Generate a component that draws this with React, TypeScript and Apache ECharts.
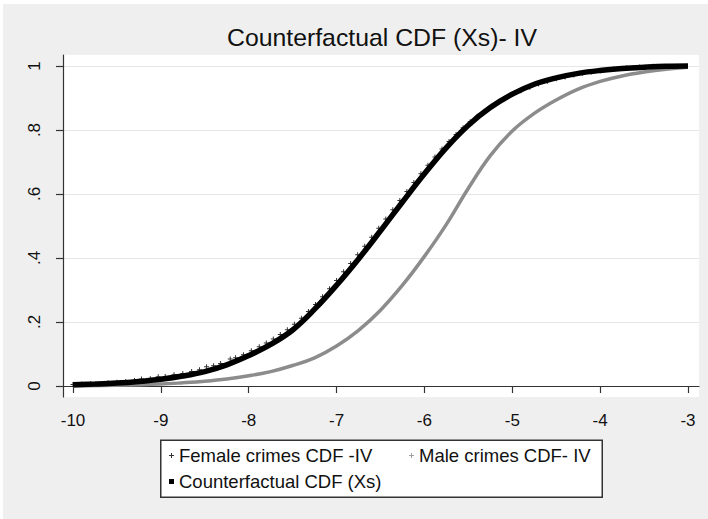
import React, { useEffect, useRef } from "react";
import * as echarts from "echarts";

// ---- data ----
const xTicks = [-10, -9, -8, -7, -6, -5, -4, -3];
const yTicks = [0, 0.2, 0.4, 0.6, 0.8, 1];

const femaleX = [-10, -9.9, -9.8, -9.7, -9.6, -9.5, -9.4, -9.3, -9.22, -9.12, -9.03, -8.95, -8.85, -8.75, -8.65, -8.56, -8.48, -8.4, -8.32, -8.21, -8.15, -8.06, -7.97, -7.88, -7.8, -7.72, -7.64, -7.56, -7.48, -7.4, -7.32, -7.24, -7.16, -7.08, -7.0, -6.92, -6.84, -6.76, -6.68, -6.6, -6.52, -6.44, -6.36, -6.28, -6.2, -6.12, -6.04, -5.96, -5.88, -5.8, -5.72, -5.64, -5.56, -5.48, -5.4, -5.32, -5.24, -5.16, -5.08, -5.0, -4.9, -4.8, -4.7, -4.6, -4.5, -4.4, -4.3, -4.2, -4.1, -4.0, -3.85, -3.7, -3.55, -3.4];
const femaleY = [0.005, 0.006, 0.007, 0.008, 0.01, 0.012, 0.014, 0.017, 0.022, 0.023, 0.029, 0.03, 0.035, 0.039, 0.045, 0.051, 0.06, 0.063, 0.07, 0.084, 0.088, 0.098, 0.11, 0.123, 0.134, 0.147, 0.161, 0.176, 0.193, 0.212, 0.233, 0.255, 0.279, 0.304, 0.33, 0.357, 0.383, 0.41, 0.437, 0.465, 0.493, 0.522, 0.551, 0.58, 0.608, 0.636, 0.663, 0.69, 0.716, 0.741, 0.764, 0.786, 0.807, 0.826, 0.843, 0.859, 0.874, 0.887, 0.9, 0.911, 0.923, 0.934, 0.944, 0.952, 0.96, 0.966, 0.972, 0.977, 0.981, 0.985, 0.99, 0.994, 0.997, 0.999];

const maleX = [-10, -9.5, -9, -8.75, -8.5, -8.25, -8, -7.75, -7.5, -7.25, -7, -6.75, -6.5, -6.25, -6, -5.75, -5.5, -5.25, -5, -4.75, -4.5, -4.25, -4, -3.75, -3.5, -3.25, -3];
const maleY = [0.0, 0.002, 0.006, 0.01, 0.015, 0.022, 0.032, 0.045, 0.064, 0.088, 0.125, 0.174, 0.237, 0.315, 0.405, 0.505, 0.618, 0.72, 0.797, 0.852, 0.894, 0.928, 0.952, 0.969, 0.981, 0.99, 0.996];

const cfX = [-10, -9.75, -9.5, -9.25, -9, -8.75, -8.5, -8.25, -8, -7.75, -7.5, -7.25, -7, -6.75, -6.5, -6.25, -6, -5.75, -5.5, -5.25, -5, -4.75, -4.5, -4.25, -4, -3.75, -3.5, -3.25, -3];
const cfY = [0.004, 0.006, 0.009, 0.014, 0.021, 0.031, 0.045, 0.066, 0.095, 0.13, 0.175, 0.24, 0.315, 0.397, 0.485, 0.575, 0.663, 0.745, 0.815, 0.87, 0.912, 0.943, 0.963, 0.977, 0.986, 0.992, 0.996, 0.999, 1.0];

const seriesNames = ["Female crimes CDF -IV", "Male crimes CDF- IV", "Counterfactual CDF (Xs)"];
const titleText = "Counterfactual CDF (Xs)- IV";

const FONT = "'Liberation Sans', Arial, sans-serif";
const PLUS = "path://M0,2h5v1h-5z M2,0h1v5h-1z";

const pairs = (xs: number[], ys: number[]) => xs.map((x, i) => [x, ys[i]]);

export default function App() {
  const ref = useRef<HTMLDivElement>(null);
  useEffect(() => {
    if (!ref.current) return;
    const chart = echarts.init(ref.current, null, { renderer: "svg" });
    const axisColor = "#333";
    const legendText = { fontFamily: FONT, fontSize: 18.5, color: "#111" };
    const legendCommon = {
      show: true,
      selectedMode: false,
      itemGap: 7,
      itemWidth: 5,
      itemHeight: 5,
      padding: 0,
      top: 446,
      textStyle: legendText,
      z: 10,
    };
    chart.setOption({
      animation: false,
      backgroundColor: "transparent",
      title: {
        text: titleText,
        left: 227,
        top: 25,
        padding: 0,
        textStyle: { fontFamily: FONT, fontSize: 24.8, fontWeight: "normal", color: "#111" },
      },
      graphic: [
        {
          type: "rect",
          left: 160,
          top: 439.5,
          z: 5,
          shape: { width: 441.5, height: 57 },
          style: { fill: "#fff", stroke: "#333", lineWidth: 1.5 },
        },
      ],
      legend: [
        {
          ...legendCommon,
          orient: "vertical",
          left: 169,
          data: [
            { name: seriesNames[0], icon: PLUS, itemStyle: { color: "#000" } },
            { name: seriesNames[2], icon: "rect", itemStyle: { color: "#000" } },
          ],
        },
        {
          ...legendCommon,
          orient: "horizontal",
          left: 409,
          data: [{ name: seriesNames[1], icon: PLUS, itemStyle: { color: "#a0a0a0" } }],
        },
      ],
      grid: {
        left: 63,
        top: 55,
        right: 9,
        bottom: 122,
        show: true,
        backgroundColor: "#fff",
        borderWidth: 0,
      },
      xAxis: {
        type: "value",
        min: -10.1138,
        max: -2.8748,
        axisLine: { show: true, lineStyle: { color: axisColor, width: 1.2 } },
        axisTick: { show: true, customValues: xTicks, length: 7, lineStyle: { color: axisColor, width: 1.2 } },
        axisLabel: {
          customValues: xTicks,
          fontFamily: FONT,
          fontSize: 17,
          color: "#111",
          margin: 15,
        },
        splitLine: { show: false },
      },
      yAxis: {
        type: "value",
        min: -0.0344,
        max: 1.0344,
        axisLine: { show: true, lineStyle: { color: axisColor, width: 1.2 } },
        axisTick: { show: true, customValues: yTicks, length: 7, lineStyle: { color: axisColor, width: 1.2 } },
        axisLabel: {
          customValues: yTicks,
          rotate: 90,
          fontFamily: FONT,
          fontSize: 17,
          color: "#111",
          margin: 20,
          formatter: (v: number) => (v === 0 ? "0" : v === 1 ? "1" : String(v).replace(/^0\./, ".")),
        },
        splitLine: { show: true, lineStyle: { color: "#e6e6e6", width: 1 } },
      },
      series: [
        {
          name: seriesNames[0],
          type: "scatter",
          data: pairs(femaleX, femaleY),
          symbol: PLUS,
          symbolSize: 5,
          color: "#000",
          itemStyle: { color: "#000" },
          z: 2,
        },
        {
          name: seriesNames[1],
          type: "line",
          data: pairs(maleX, maleY),
          showSymbol: false,
          smooth: 0.4,
          color: "#8c8c8c",
          itemStyle: { color: "#8c8c8c" },
          lineStyle: { color: "#8c8c8c", width: 3.5 },
          z: 3,
        },
        {
          name: seriesNames[2],
          type: "line",
          data: pairs(cfX, cfY),
          showSymbol: false,
          smooth: 0.4,
          color: "#000",
          itemStyle: { color: "#000" },
          lineStyle: { color: "#000", width: 5.5 },
          z: 4,
        },
      ],
    });
    return () => chart.dispose();
  }, []);

  return (
    <div style={{ position: "fixed", left: 0, top: 0, width: 708, height: 519, background: "#fff" }}>
      <div style={{ position: "absolute", left: 3, top: 4, right: 0, bottom: 0, background: "#efefef" }} />
      <div ref={ref} style={{ position: "absolute", left: 0, top: 0, width: 708, height: 519 }} />
    </div>
  );
}
